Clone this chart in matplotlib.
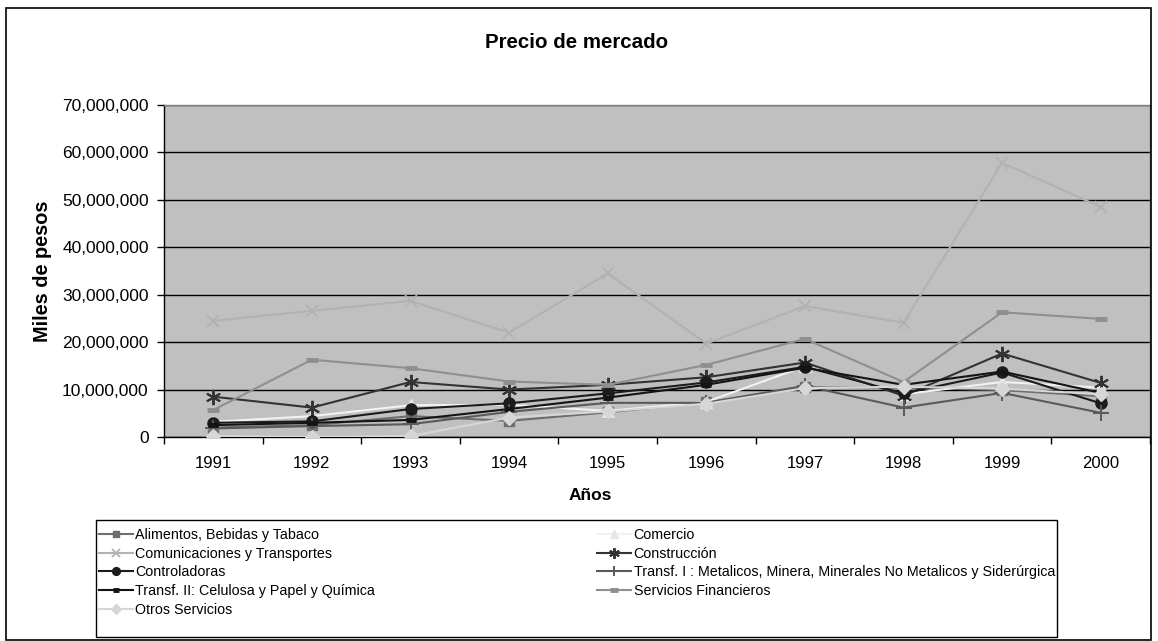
import matplotlib
matplotlib.use("Agg")
import matplotlib.pyplot as plt
from matplotlib.patches import Rectangle
from matplotlib.ticker import FuncFormatter, FixedLocator

plt.rcParams['font.family'] = ['Liberation Sans', 'DejaVu Sans']

years = ["1991", "1992", "1993", "1994", "1995", "1996", "1997", "1998", "1999", "2000"]

alimentos = [2.0e6, 2.5e6, 4.4e6, 3.4e6, 5.2e6, 7.3e6, 10.5e6, 10.4e6, 9.9e6, 8.6e6]
comercio = [3.2e6, 4.4e6, 6.7e6, 6.8e6, 5.5e6, 7.4e6, 14.9e6, 9.0e6, 11.6e6, 10.4e6]
comunicaciones = [24.5e6, 26.6e6, 28.7e6, 22.0e6, 34.5e6, 19.7e6, 27.6e6, 24.1e6, 57.8e6, 48.5e6]
construccion = [8.5e6, 6.2e6, 11.6e6, 10.0e6, 11.0e6, 12.6e6, 15.7e6, 8.7e6, 17.6e6, 11.4e6]
controladoras = [3.0e6, 3.3e6, 5.9e6, 7.1e6, 9.2e6, 11.5e6, 14.8e6, 9.2e6, 13.6e6, 7.1e6]
transf1 = [1.8e6, 2.3e6, 2.7e6, 5.3e6, 7.2e6, 7.2e6, 10.8e6, 6.2e6, 9.3e6, 5.1e6]
transf2 = [2.5e6, 3.0e6, 3.6e6, 5.9e6, 8.3e6, 11.0e6, 14.6e6, 11.0e6, 13.8e6, 9.3e6]
servicios_fin = [5.7e6, 16.3e6, 14.5e6, 11.7e6, 11.0e6, 15.2e6, 20.7e6, 11.6e6, 26.3e6, 24.9e6]
otros = [0.2e6, 0.0e6, 0.2e6, 4.1e6, 5.4e6, 7.0e6, 10.3e6, 10.6e6, 10.2e6, 9.0e6]

labels = [
    "Alimentos, Bebidas y Tabaco",
    "Comercio",
    "Comunicaciones y Transportes",
    "Construcción",
    "Controladoras",
    "Transf. I : Metalicos, Minera, Minerales No Metalicos y Siderúrgica",
    "Transf. II: Celulosa y Papel y Química",
    "Servicios Financieros",
    "Otros Servicios",
]

W, H = 1158, 641
fig = plt.figure(figsize=(W / 100, H / 100), dpi=100)
fig.patch.set_facecolor("white")

L, R, T, B = 164, 1150, 105, 437
ax = fig.add_axes([L / W, 1 - B / H, (R - L) / W, (B - T) / H])
ax.set_facecolor("#C0C0C0")

x = list(range(len(years)))

styles = [
    (alimentos, dict(color="#6E6E6E", marker="s", ms=7, mfc="#6E6E6E", mec="#6E6E6E")),
    (comercio, dict(color="#F2F2F2", marker="^", ms=8, mfc="#E6E6E6", mec="#E6E6E6")),
    (comunicaciones, dict(color="#B2B2B2", marker="x", ms=9, mew=1.3, mfc="none", mec="#B2B2B2")),
    (construccion, dict(color="#333333", marker=(6, 2, 0), ms=11, mew=1.4, mec="#333333")),
    (controladoras, dict(color="#1C1C1C", marker="o", ms=8, mfc="#1C1C1C", mec="#1C1C1C")),
    (transf1, dict(color="#5A5A5A", marker="+", ms=11, mew=1.4, mec="#5A5A5A")),
    (transf2, dict(color="#141414", marker="_", ms=7, mew=3.5, mec="#141414")),
    (servicios_fin, dict(color="#8F8F8F", marker="_", ms=9, mew=3.5, mec="#8F8F8F")),
    (otros, dict(color="#D6D6D6", marker="D", ms=7, mfc="#D6D6D6", mec="#D6D6D6")),
]

handles = []
for (vals, st), lab in zip(styles, labels):
    h, = ax.plot(x, vals, lw=1.5, label=lab, zorder=3, **st)
    handles.append(h)

ax.set_xlim(-0.5, len(years) - 0.5)
ax.set_ylim(0, 70e6)
ax.yaxis.set_major_locator(FixedLocator([i * 10e6 for i in range(8)]))
ax.yaxis.set_major_formatter(FuncFormatter(lambda v, p: f"{int(round(v)):,}"))
ax.grid(axis="y", color="black", lw=1.0, zorder=1)
ax.set_axisbelow(True)

ax.set_xticks([i + 0.5 for i in range(-1, len(years))])
ax.set_xticklabels([])
ax.set_xticks(x, minor=True)
ax.set_xticklabels(years, minor=True)
ax.tick_params(axis="x", which="major", length=5, width=1, color="black", direction="out")
ax.tick_params(axis="x", which="minor", length=0, pad=14, labelsize=12)
ax.tick_params(axis="y", length=5, width=1, pad=6, labelsize=12.5, direction="out")

for s in ["left", "bottom"]:
    ax.spines[s].set_color("black")
    ax.spines[s].set_linewidth(1.0)
for s in ["top", "right"]:
    ax.spines[s].set_color("#808080")
    ax.spines[s].set_linewidth(1.0)

fig.text(577 / W, 1 - 42 / H, "Precio de mercado", ha="center", va="center",
         fontsize=14.8, fontweight="bold")
fig.text(42 / W, 1 - 271 / H, "Miles de pesos", ha="center", va="center",
         rotation=90, fontsize=14.3, fontweight="bold")
fig.text(590 / W, 1 - 496 / H, "Años", ha="center", va="center",
         fontsize=12.5, fontweight="bold")

# legend: row-major order in the reference -> reorder for column-major filling
order = [0, 2, 4, 6, 8, 1, 3, 5, 7]
lx0, ly0, lx1, ly1 = 96, 520, 1057, 637
leg = fig.legend(handles=[handles[i] for i in order], labels=[labels[i] for i in order],
                 ncol=2, mode="expand",
                 bbox_to_anchor=(99 / W, 1 - 635 / H, (1055 - 99) / W, (635 - 528) / H),
                 loc="upper left", bbox_transform=fig.transFigure,
                 fontsize=10.3, frameon=False, borderaxespad=0,
                 handlelength=2.4, handletextpad=0.15, labelspacing=0.33,
                 borderpad=0, columnspacing=1.0, markerscale=0.7)

fig.add_artist(Rectangle((lx0 / W, 1 - ly1 / H), (lx1 - lx0) / W, (ly1 - ly0) / H,
                         transform=fig.transFigure, fill=False, edgecolor="black", lw=1.0))

# outer chart border
fig.add_artist(Rectangle((6 / W, 1 - 640 / H), (1151 - 6) / W, (640 - 8) / H,
                         transform=fig.transFigure, fill=False, edgecolor="black", lw=1.2))

fig.savefig("out.png", dpi=100)
